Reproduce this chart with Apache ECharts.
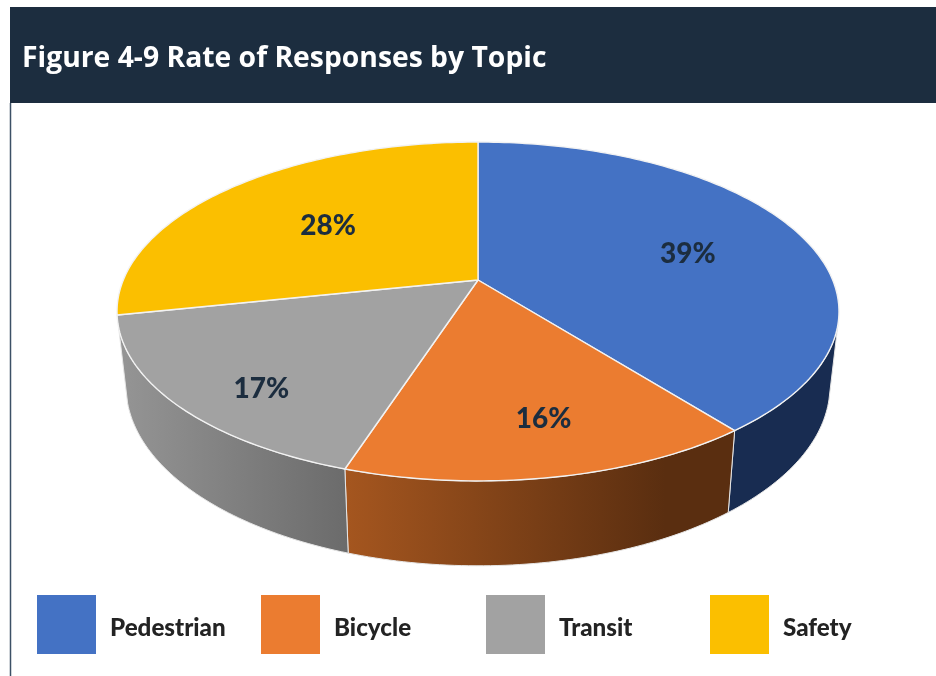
<!DOCTYPE html>
<html><head><meta charset="utf-8">
<style>html,body{margin:0;padding:0;background:#fff}#c{width:936px;height:676px}</style>
<script src="https://cdn.jsdelivr.net/npm/echarts@6/dist/echarts.min.js"></script>
</head><body><div id="c"></div>
<script>
const titleText = 'Figure 4-9 Rate of Responses by Topic';
const categories = ['Pedestrian', 'Bicycle', 'Transit', 'Safety'];
const values = [39.4, 15.6, 16.7, 28.3];
const topColors = ['#4472c4', '#eb7c30', '#a2a2a2', '#fbbf00'];
const sideStops = [['#182c51', '#182c51'], ['#a5561f', '#5a2e10'], ['#959595', '#6b6b6b'], ['#8a6800', '#8a6800']];
const legendLefts = [37, 261, 486, 710];
const labelRadius = [0.632, 0.75, 0.805, 0.572];
const labelShift = [3.8, -2.2, -5.6, -1.0];

// perspective disc layout
const CX = 478, CY = 280, B = 354.7, A = 163.6, K = -0.1858;
const SIDE_FROM = 105, SIDE_TO = 254;
const total = values.reduce((a, b) => a + b, 0);
function project(deg, r) {
  const t = deg * Math.PI / 180, u = r * Math.sin(t), v = -r * Math.cos(t), w = 1 + K * v;
  return [CX + B * u / w, CY + A * v / w];
}
function drop(p) { return [CX + 0.975 * (p[0] - CX), 1.06 * p[1] + 56]; }
function arc(a0, a1) {
  const pts = [], n = Math.max(2, Math.ceil(Math.abs(a1 - a0)));
  for (let i = 0; i <= n; i++) pts.push(project(a0 + (a1 - a0) * i / n, 1));
  return pts;
}
function makeRender(idx) {
  return function (params, api) {
    const val = api.value(0);
    let before = 0;
    for (let i = 0; i < idx; i++) before += values[i];
    const a0 = before / total * 360, a1 = (before + val) / total * 360;
    const children = [];
    const s0 = Math.max(a0, SIDE_FROM), s1 = Math.min(a1, SIDE_TO);
    if (s1 > s0) {
      const rim = arc(s0, s1), low = rim.map(drop).reverse();
      const xs = rim.concat(low).map(p => p[0]);
      children.push({
        type: 'polygon', z2: 1,
        shape: { points: rim.concat(low) },
        style: {
          fill: { type: 'linear', global: true, x: Math.min(...xs), y: 0, x2: Math.max(...xs) - (idx === 1 ? 70 : 0), y2: 0,
            colorStops: [{ offset: 0, color: sideStops[idx][0] }, { offset: 1, color: sideStops[idx][1] }] },
          stroke: '#e6e6e6', lineWidth: 1
        }
      });
    }
    children.push({
      type: 'polygon', z2: 5,
      shape: { points: [[CX, CY]].concat(arc(a0, a1)) },
      style: { fill: topColors[idx], stroke: '#f2f2f2', lineWidth: 1.4, lineJoin: 'round' }
    });
    const lp = project((a0 + a1) / 2 + labelShift[idx], labelRadius[idx]);
    children.push({
      type: 'text', z2: 10, x: lp[0], y: lp[1],
      style: { text: Math.round(val) + '%', fill: '#1c2d3f', font: '900 28px Lato', align: 'center', verticalAlign: 'middle' }
    });
    return { type: 'group', children };
  };
}
const chart = echarts.init(document.getElementById('c'), null, { renderer: 'canvas' });
chart.setOption({
  animation: false,
  backgroundColor: '#ffffff',
  title: { text: titleText, left: 22, top: 41, padding: 0,
    textStyle: { color: '#ffffff', fontFamily: 'Open Sans', fontWeight: 'bold', fontSize: 28.3, lineHeight: 36 } },
  legend: categories.map((name, i) => ({
    data: [name], orient: 'horizontal', left: legendLefts[i], top: 595, padding: 0, itemWidth: 59, itemHeight: 59,
    icon: 'rect', selectedMode: false, formatter: '{t|{name}}',
    textStyle: { rich: { t: { color: '#232323', fontFamily: 'Lato', fontWeight: 900, fontSize: 24.2, padding: [8, 0, 0, 9] } } }
  })),
  graphic: [
    { type: 'rect', z: -1, shape: { x: 10, y: 7, width: 926, height: 96 }, style: { fill: '#1c2d3f' } },
    { type: 'line', z: -1, shape: { x1: 10.5, y1: 103, x2: 10.5, y2: 676 }, style: { stroke: '#3c5066', lineWidth: 1.5 } }
  ],
  series: categories.map((name, i) => ({
    type: 'custom', name, coordinateSystem: 'none', itemStyle: { color: topColors[i] },
    data: [[values[i]]], renderItem: makeRender(i), silent: true
  }))
});
</script></body></html>
